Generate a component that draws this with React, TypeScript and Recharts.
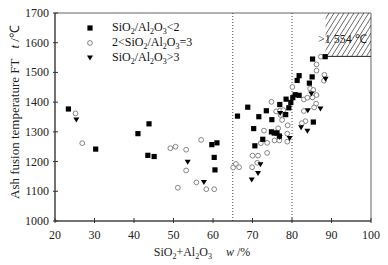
import {
  ScatterChart,
  Scatter,
  XAxis,
  YAxis,
  ReferenceLine,
  ReferenceArea,
  Label,
  Legend,
} from 'recharts'

// SiO2+Al2O3 (w/%) vs ash fusion temperature FT (°C)
const ratioBelow2: [number, number][] = [
  [23.4, 1377], [30.3, 1242], [41.0, 1294], [43.8, 1327], [43.5, 1221], [45.1, 1217],
  [59.7, 1257], [61.0, 1263], [60.3, 1214], [60.5, 1172], [66.2, 1353], [68.8, 1383],
  [71.6, 1351], [70.3, 1311], [70.6, 1253], [72.6, 1275], [73.5, 1371], [74.9, 1341],
  [76.9, 1392], [78.5, 1410], [78.4, 1358], [79.2, 1381], [79.7, 1399], [80.2, 1415],
  [80.8, 1425], [81.8, 1423], [74.8, 1300], [75.5, 1296], [76.2, 1296], [76.8, 1286],
  [81.8, 1489], [81.3, 1473], [85.1, 1485], [84.4, 1464], [85.4, 1333], [85.2, 1545],
  [88.4, 1553],
]

const ratio2to3: [number, number][] = [
  [25.2, 1362], [26.9, 1262], [49.2, 1245], [50.5, 1250], [53.2, 1240], [53.2, 1170],
  [51.1, 1112], [57.0, 1273], [55.8, 1130], [58.3, 1107], [60.3, 1107], [65.1, 1180],
  [65.8, 1192], [66.6, 1181], [70.0, 1220], [71.4, 1220], [69.9, 1181], [71.2, 1196],
  [72.1, 1262], [73.7, 1263], [73.7, 1229], [72.9, 1304], [74.8, 1401], [76.0, 1369],
  [77.0, 1372], [77.8, 1373], [77.1, 1357], [77.5, 1340], [76.5, 1312], [75.6, 1271],
  [76.8, 1271], [78.8, 1294], [78.8, 1267], [78.9, 1322], [80.1, 1451], [83.0, 1409],
  [83.9, 1415], [85.2, 1416], [86.2, 1424], [84.6, 1446], [85.4, 1441], [86.1, 1395],
  [85.6, 1382], [83.0, 1370], [83.4, 1336], [82.5, 1329], [86.2, 1527], [86.2, 1506],
  [88.2, 1492], [88.1, 1472], [87.3, 1553],
]

const ratioAbove3: [number, number][] = [
  [25.4, 1340], [53.6, 1198], [57.7, 1130], [69.8, 1138], [71.4, 1160], [72.0, 1190],
  [76.9, 1281], [77.0, 1362], [79.4, 1278], [82.3, 1314], [83.9, 1302], [84.0, 1371],
  [84.9, 1428], [87.2, 1377], [88.5, 1477],
]

const xTicks = [20, 30, 40, 50, 60, 70, 80, 90, 100]
const yTicks = [1000, 1100, 1200, 1300, 1400, 1500, 1600, 1700]
const boundaries = [65, 80]
const hotZone = { x1: 88.5, y1: 1554, label: '>1 554 ℃' }

const font = '"Liberation Serif", "Times New Roman", serif'
const axisColor = '#333'

const toPoints = (arr: [number, number][]) => arr.map(([x, y]) => ({ x, y }))

const SquareDot = (p: any) => (
  <rect x={p.cx - 2.6} y={p.cy - 2.6} width={5.2} height={5.2} fill="#000" />
)
const CircleDot = (p: any) => (
  <circle cx={p.cx} cy={p.cy} r={2.4} fill="#fff" stroke="#777" strokeWidth={0.9} />
)
const TriDot = (p: any) => (
  <polygon
    points={`${p.cx - 3},${p.cy - 2.4} ${p.cx + 3},${p.cy - 2.4} ${p.cx},${p.cy + 2.6}`}
    fill="#000"
  />
)

const XTick = ({ x, y, payload }: any) => (
  <g>
    <line x1={x} y1={y} x2={x} y2={y - 5} stroke={axisColor} />
    <text x={x} y={y + 16} textAnchor="middle" fontSize={12} fontFamily={font} fill="#222">
      {payload.value}
    </text>
  </g>
)

const YTick = ({ x, y, payload }: any) => (
  <g>
    <line x1={x} y1={y} x2={x + 5} y2={y} stroke={axisColor} />
    <text x={x - 4} y={y + 4} textAnchor="end" fontSize={12} fontFamily={font} fill="#222">
      {payload.value}
    </text>
  </g>
)

const Sub = ({ children }: any) => (
  <span style={{ fontSize: 8, position: 'relative', top: 3 }}>{children}</span>
)

const legendRows = [
  { marker: 'square', text: ['SiO', '2', '/Al', '2', 'O', '3', '<2'] },
  { marker: 'circle', text: ['2<SiO', '2', '/Al', '2', 'O', '3', '=3'] },
  { marker: 'tri', text: ['SiO', '2', '/Al', '2', 'O', '3', '>3'] },
]

const LegendBox = () => (
  <div style={{ fontFamily: font, fontSize: 12, color: '#111' }}>
    {legendRows.map((r) => (
      <div key={r.marker} style={{ display: 'flex', alignItems: 'center', height: 15 }}>
        <svg width={12} height={12} style={{ marginRight: 16 }}>
          {r.marker === 'square' && <SquareDot cx={6} cy={6} />}
          {r.marker === 'circle' && <CircleDot cx={6} cy={6} />}
          {r.marker === 'tri' && <TriDot cx={6} cy={6} />}
        </svg>
        <span style={{ whiteSpace: 'nowrap' }}>
          {r.text.map((t, i) => (i % 2 === 1 && i < 6 ? <Sub key={i}>{t}</Sub> : <span key={i}>{t}</span>))}
        </span>
      </div>
    ))}
  </div>
)

export default function App() {
  return (
    <div style={{ position: 'absolute', left: 0, top: 0, background: '#fff' }}>
      <ScatterChart width={388} height={265} margin={{ top: 13, right: 17, bottom: 0, left: 0 }}>
        <defs>
          <pattern id="hatch" width={4.2} height={4.2} patternUnits="userSpaceOnUse" patternTransform="rotate(32)">
            <line x1={0} y1={0} x2={0} y2={4.2} stroke="#000" strokeWidth={1} />
          </pattern>
        </defs>
        <XAxis
          type="number"
          dataKey="x"
          domain={[20, 100]}
          ticks={xTicks}
          height={44}
          tickSize={0}
          tickLine={false}
          tick={<XTick />}
          axisLine={{ stroke: axisColor }}
          interval={0}
        >
          <Label
            content={() => (
              <text x={202} y={256} textAnchor="middle" fontSize={12} fontFamily={font} fill="#222">
                <tspan>SiO</tspan>
                <tspan fontSize={8} dy={3}>2</tspan>
                <tspan dy={-3}>+Al</tspan>
                <tspan fontSize={8} dy={3}>2</tspan>
                <tspan dy={-3}>O</tspan>
                <tspan fontSize={8} dy={3}>3</tspan>
                <tspan dy={-3} dx={14} fontStyle="italic">w</tspan>
                <tspan> /%</tspan>
              </text>
            )}
          />
        </XAxis>
        <YAxis
          type="number"
          dataKey="y"
          domain={[1000, 1700]}
          ticks={yTicks}
          width={55}
          tickSize={0}
          tickLine={false}
          tick={<YTick />}
          axisLine={{ stroke: axisColor }}
          interval={0}
        >
          <Label
            content={() => (
              <text
                x={19}
                y={112}
                transform="rotate(-90 19 112)"
                textAnchor="middle"
                fontSize={13}
                fontFamily={font}
                fill="#222"
              >
                <tspan>Ash fusion temperature FT</tspan>
                <tspan dx={10} fontStyle="italic">t</tspan>
                <tspan> /℃</tspan>
              </text>
            )}
          />
        </YAxis>

        {/* frame */}
        <ReferenceArea x1={20} x2={100} y1={1000} y2={1700} fill="none" stroke="#666" ifOverflow="visible" />

        {/* hatched zone above 1554 */}
        <ReferenceArea x1={hotZone.x1} x2={100} y1={hotZone.y1} y2={1700} fill="url(#hatch)" fillOpacity={1} stroke="none">
          <Label value={hotZone.label} position="center" dx={-6} dy={4} fontSize={12} fontFamily={font} fill="#222" />
        </ReferenceArea>
        <ReferenceLine
          segment={[{ x: hotZone.x1, y: hotZone.y1 }, { x: 100, y: hotZone.y1 }]}
          stroke="#222"
        />

        {boundaries.map((b) => (
          <ReferenceLine key={b} x={b} stroke="#444" strokeDasharray="1 2" />
        ))}

        <Scatter data={toPoints(ratio2to3)} shape={<CircleDot />} isAnimationActive={false} />
        <Scatter data={toPoints(ratioBelow2)} shape={<SquareDot />} isAnimationActive={false} />
        <Scatter data={toPoints(ratioAbove3)} shape={<TriDot />} isAnimationActive={false} />

        <Legend
          layout="horizontal"
          verticalAlign="middle"
          align="center"
          content={<LegendBox />}
          wrapperStyle={{ left: 84, top: 20, width: 120 }}
        />
      </ScatterChart>
    </div>
  )
}
